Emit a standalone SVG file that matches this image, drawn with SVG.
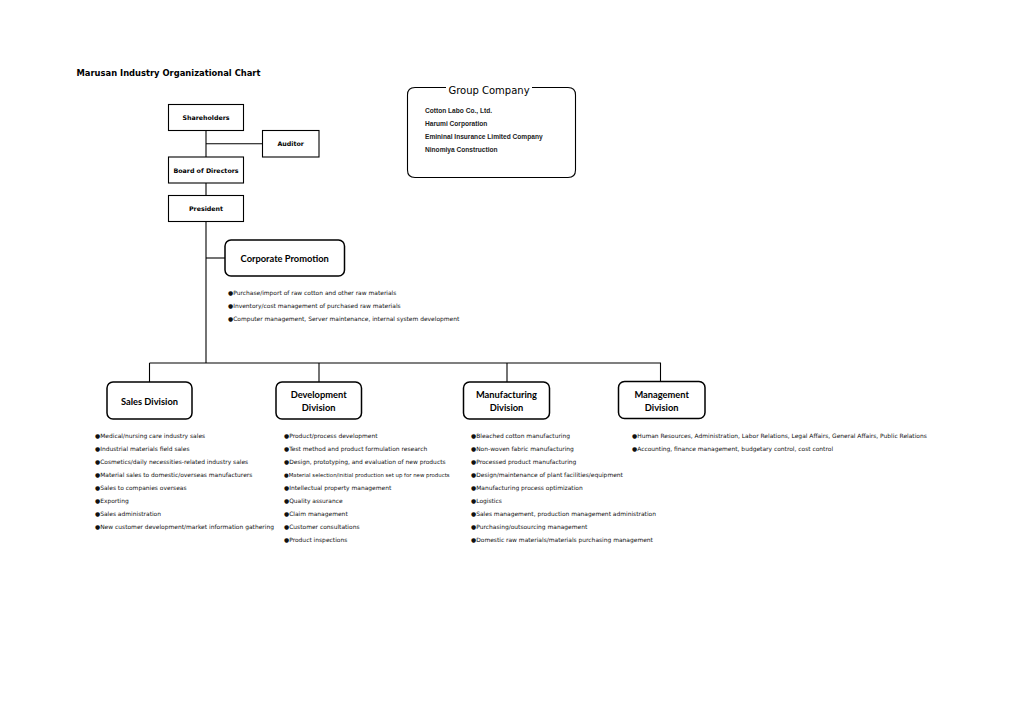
<svg xmlns="http://www.w3.org/2000/svg" width="1024" height="724" viewBox="0 0 1024 724">
<style>
.bg{fill:#fff}
.box{fill:#fff;stroke:#000;stroke-width:1.1}
.rbox{fill:#fff;stroke:#000;stroke-width:1.5}
.ln{fill:none;stroke:#000;stroke-width:1.1}
.title{font-family:"DejaVu Sans",Verdana,sans-serif;font-weight:bold;font-size:8.6px;fill:#000}
.bl{font-family:"DejaVu Sans",Verdana,sans-serif;font-weight:bold;font-size:6.3px;fill:#000;text-anchor:middle}
.dl{font-family:Lato,"Open Sans",sans-serif;font-weight:bold;font-size:9.3px;fill:#000;text-anchor:middle}
.it{font-family:"DejaVu Sans",Verdana,sans-serif;font-size:5.95px;fill:#111}
.gc{font-family:"Liberation Sans",Arial,sans-serif;font-weight:bold;font-size:6.6px;fill:#222}
.gt{font-family:"DejaVu Sans",Verdana,sans-serif;font-size:10px;fill:#000;text-anchor:middle}
</style>
<rect class="bg" x="0" y="0" width="1024" height="724"/>
<text class="title" x="76.5" y="76" textLength="184" lengthAdjust="spacingAndGlyphs">Marusan Industry Organizational Chart</text>

<g id="connectors">
<line class="ln" x1="206" y1="131" x2="206" y2="157"/>
<line class="ln" x1="206" y1="143.7" x2="262" y2="143.7"/>
<line class="ln" x1="206" y1="183" x2="206" y2="195"/>
<line class="ln" x1="206" y1="222" x2="206" y2="363"/>
<line class="ln" x1="206" y1="258" x2="225" y2="258"/>
<line class="ln" x1="149.5" y1="363" x2="661" y2="363"/>
<line class="ln" x1="149.5" y1="363" x2="149.5" y2="382"/>
<line class="ln" x1="319" y1="363" x2="319" y2="382"/>
<line class="ln" x1="507" y1="363" x2="507" y2="382"/>
<line class="ln" x1="660.5" y1="363" x2="660.5" y2="382"/>
</g>

<g id="group-company">
<path class="ln" d="M446 87.5 H415 Q407.5 87.5 407.5 95 V170 Q407.5 177.5 415 177.5 H568 Q575.5 177.5 575.5 170 V95 Q575.5 87.5 568 87.5 H532"/>
<text class="gt" x="489" y="93.5">Group Company</text>
<text class="gc" x="425" y="113">Cotton Labo Co., Ltd.</text>
<text class="gc" x="425" y="126">Harumi Corporation</text>
<text class="gc" x="425" y="139">Emininal Insurance Limited Company</text>
<text class="gc" x="425" y="152">Ninomiya Construction</text>
</g>

<g id="shareholders">
<rect class="box" x="168.5" y="104.5" width="75" height="26"/>
<text class="bl" x="206" y="120">Shareholders</text>
</g>
<g id="auditor">
<rect class="box" x="262.5" y="130.5" width="56.5" height="26.5"/>
<text class="bl" x="290.7" y="146">Auditor</text>
</g>
<g id="board">
<rect class="box" x="168.5" y="157" width="75" height="26"/>
<text class="bl" x="206" y="172.5">Board of Directors</text>
</g>
<g id="president">
<rect class="box" x="168.5" y="195.5" width="75" height="26"/>
<text class="bl" x="206" y="211">President</text>
</g>

<g id="corporate-promotion">
<rect class="rbox" x="225" y="240" width="119.5" height="36" rx="6"/>
<text class="dl" x="284.7" y="261.5">Corporate Promotion</text>
<text class="it" x="228" y="295">●Purchase/import of raw cotton and other raw materials</text>
<text class="it" x="228" y="308">●Inventory/cost management of purchased raw materials</text>
<text class="it" x="228" y="321">●Computer management, Server maintenance, internal system development</text>
</g>

<g id="sales">
<rect class="rbox" x="107" y="382" width="85" height="37" rx="6"/>
<text class="dl" x="149.5" y="404.5">Sales Division</text>
<text class="it" x="95" y="438">●Medical/nursing care industry sales</text>
<text class="it" x="95" y="451">●Industrial materials field sales</text>
<text class="it" x="95" y="464">●Cosmetics/daily necessities-related industry sales</text>
<text class="it" x="95" y="477">●Material sales to domestic/overseas manufacturers</text>
<text class="it" x="95" y="490">●Sales to companies overseas</text>
<text class="it" x="95" y="503">●Exporting</text>
<text class="it" x="95" y="516">●Sales administration</text>
<text class="it" x="95" y="529">●New customer development/market information gathering</text>
</g>

<g id="development">
<rect class="rbox" x="276" y="382" width="85.5" height="37" rx="6"/>
<text class="dl" x="318.7" y="398">Development</text>
<text class="dl" x="318.7" y="411">Division</text>
<text class="it" x="284" y="438">●Product/process development</text>
<text class="it" x="284" y="451">●Test method and product formulation research</text>
<text class="it" x="284" y="464">●Design, prototyping, and evaluation of new products</text>
<text class="it" x="284" y="477" style="font-size:5.4px">●Material selection/initial production set up for new products</text>
<text class="it" x="284" y="490">●Intellectual property management</text>
<text class="it" x="284" y="503">●Quality assurance</text>
<text class="it" x="284" y="516">●Claim management</text>
<text class="it" x="284" y="529">●Customer consultations</text>
<text class="it" x="284" y="542">●Product inspections</text>
</g>

<g id="manufacturing">
<rect class="rbox" x="463.5" y="382" width="86" height="37" rx="6"/>
<text class="dl" x="506.5" y="398">Manufacturing</text>
<text class="dl" x="506.5" y="411">Division</text>
<text class="it" x="471" y="438">●Bleached cotton manufacturing</text>
<text class="it" x="471" y="451">●Non-woven fabric manufacturing</text>
<text class="it" x="471" y="464">●Processed product manufacturing</text>
<text class="it" x="471" y="477">●Design/maintenance of plant facilities/equipment</text>
<text class="it" x="471" y="490">●Manufacturing process optimization</text>
<text class="it" x="471" y="503">●Logistics</text>
<text class="it" x="471" y="516">●Sales management, production management administration</text>
<text class="it" x="471" y="529">●Purchasing/outsourcing management</text>
<text class="it" x="471" y="542">●Domestic raw materials/materials purchasing management</text>
</g>

<g id="management">
<rect class="rbox" x="618.5" y="381.5" width="86.5" height="37" rx="6"/>
<text class="dl" x="661.7" y="397.5">Management</text>
<text class="dl" x="661.7" y="410.5">Division</text>
<text class="it" x="632" y="438">●Human Resources, Administration, Labor Relations, Legal Affairs, General Affairs, Public Relations</text>
<text class="it" x="632" y="451">●Accounting, finance management, budgetary control, cost control</text>
</g>
</svg>
